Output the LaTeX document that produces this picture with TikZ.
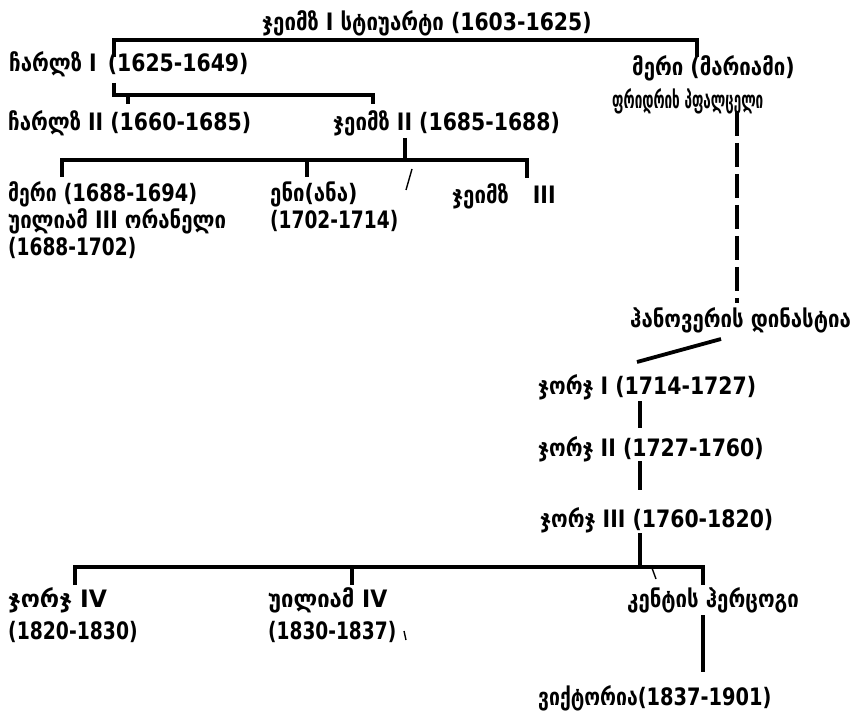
\documentclass[tikz,border=0pt]{standalone}
\usepackage{graphicx}
\usepackage{fontspec}
\setmainfont{DejaVu Sans}[FakeStretch=0.85]
\newcommand{\sxx}[2]{\scalebox{#1}[1]{#2}}
\begin{document}
\begin{tikzpicture}[x=1pt,y=-1pt,
  lbl/.style={anchor=base west,inner sep=0pt,font=\fontsize{24}{28}\selectfont\bfseries},
  ln/.style={line width=3.8pt},
  thin/.style={line width=1.4pt},
  dsh/.style={line width=3.4pt,dash pattern=on 24pt off 7pt}]
\fill[white] (0,0) rectangle (863,714);
\useasboundingbox (0,0) rectangle (863,714);
% texts
\node[lbl] (t0) at (262,31) {ჯეიმზ I სტიუარტი (1603-1625)};
\node[lbl] (c1) at (9,72) {ჩარლზ I\hspace{4pt} (1625-1649)};
\node[lbl] (m1) at (632,76) {მერი (მარიამი)};
\node[lbl] (f1) at (612,109) {\sxx{0.66}{ფრიდრიხ პფალცელი}};
\node[lbl] (c2) at (8,131) {ჩარლზ II (1660-1685)};
\node[lbl] (j2) at (333,131) {ჯეიმზ II (1685-1688)};
\node[lbl] (m2) at (8,202) {\sxx{0.95}{მერი (1688-1694)}};
\node[lbl] (w3) at (8,229) {უილიამ III ორანელი};
\node[lbl] (w3d) at (8,256) {\sxx{0.91}{(1688-1702)}};
\node[lbl] (an) at (270,202) {ენი(ანა)};
\node[lbl] (and) at (270,229) {\sxx{0.91}{(1702-1714)}};
\node[lbl] (j3) at (452,204) {ჯეიმზ\hspace{24pt}III};
\node[lbl] (hd) at (630,327) {ჰანოვერის დინასტია};
\node[lbl] (g1) at (538,395) {ჯორჯ I (1714-1727)};
\node[lbl] (g2) at (538,456) {ჯორჯ II (1727-1760)};
\node[lbl] (g3) at (540,527) {ჯორჯ III (1760-1820)};
\node[lbl] (g4) at (8,607) {\sxx{1.15}{ჯორჯ IV}};
\node[lbl] (g4d) at (8,639) {\sxx{0.92}{(1820-1830)}};
\node[lbl] (w4) at (268,607) {\sxx{1.08}{უილიამ IV}};
\node[lbl] (w4d) at (268,639) {\sxx{0.91}{(1830-1837)}};
\node[lbl] (kd) at (627,607) {კენტის ჰერცოგი};
\node[lbl] (vi) at (538,705) {\sxx{0.95}{ვიქტორია(1837-1901)}};
% bracket points
\coordinate (a1) at (114,57); \coordinate (a2) at (114,40);
\coordinate (a3) at (697,40); \coordinate (a4) at (697,57);
\coordinate (b1) at (114,83); \coordinate (b2) at (114,95);
\coordinate (b3) at (373,95); \coordinate (b4) at (373,104);
\coordinate (b5) at (128,95); \coordinate (b6) at (128,104);
\coordinate (d0) at (405,138); \coordinate (d1) at (405,160);
\coordinate (e1) at (62,177); \coordinate (e2) at (62,160);
\coordinate (e3) at (527,160); \coordinate (e4) at (527,178);
\coordinate (e5) at (307,160); \coordinate (e6) at (307,177);
\coordinate (s1) at (412,169); \coordinate (s2) at (406,190);
\coordinate (p1) at (737,112); \coordinate (p2) at (737,303);
\coordinate (h1) at (637,362); \coordinate (h2) at (721,339);
\coordinate (k1) at (640,401); \coordinate (k2) at (640,428);
\coordinate (k3) at (640,461); \coordinate (k4) at (640,490);
\coordinate (k5) at (640,533); \coordinate (k6) at (640,567);
\coordinate (q1) at (75,585); \coordinate (q2) at (75,567);
\coordinate (q3) at (703,567); \coordinate (q4) at (703,585);
\coordinate (q5) at (352,567); \coordinate (q6) at (352,585);
\coordinate (r1) at (652,568); \coordinate (r2) at (656,579);
\coordinate (v1) at (703,615); \coordinate (v2) at (703,672);
\coordinate (x1) at (404,631); \coordinate (x2) at (406,640);
% connectors
\draw[ln] (a1) -- (a2) -- (a3) -- (a4);
\draw[ln] (b1) -- (b2) -- (b3) -- (b4);
\draw[ln] (b5) -- (b6);
\draw[ln] (d0) -- (d1);
\draw[ln] (e1) -- (e2) -- (e3) -- (e4);
\draw[ln] (e5) -- (e6);
\draw[thin] (s1) -- (s2);
\draw[dsh] (p1) -- (p2);
\draw[ln] (h1) -- (h2);
\draw[ln] (k1) -- (k2);
\draw[ln] (k3) -- (k4);
\draw[ln] (k5) -- (k6);
\draw[ln] (q1) -- (q2) -- (q3) -- (q4);
\draw[ln] (q5) -- (q6);
\draw[thin] (r1) -- (r2);
\draw[ln] (v1) -- (v2);
\draw[thin] (x1) -- (x2);
\end{tikzpicture}
\end{document}
